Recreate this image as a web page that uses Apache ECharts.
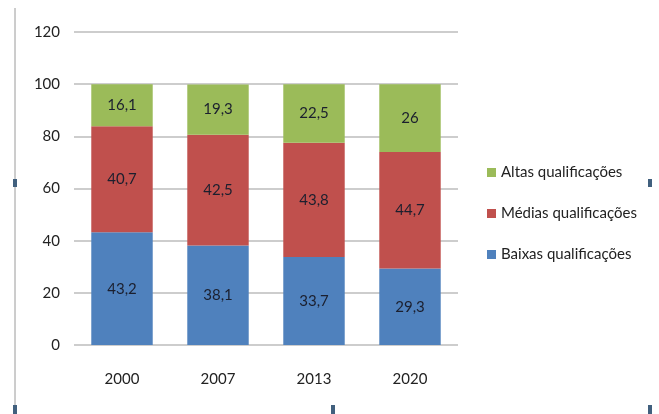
<!DOCTYPE html>
<html>
<head>
<meta charset="utf-8">
<script src="https://cdn.jsdelivr.net/npm/echarts@6/dist/echarts.min.js"></script>
<style>
html, body { margin: 0; padding: 0; background: #fff; }
#main { width: 659px; height: 414px; }
</style>
</head>
<body>
<div id="main"></div>
<script>
var years = ['2000', '2007', '2013', '2020'];
var baixas = [43.2, 38.1, 33.7, 29.3];
var medias = [40.7, 42.5, 43.8, 44.7];
var altas = [16.1, 19.3, 22.5, 26];
var names = ['Baixas qualificações', 'Médias qualificações', 'Altas qualificações'];

var font = 'Lato, "Open Sans", sans-serif';

//rotulo dentro da barra, com virgula decimal
function makeSeries(name, data, color){
	return {
		name : name,
		type : 'bar',
		stack : 'total',
		barWidth : '64%',
		data : data,
		itemStyle : { color : color },
		label : {
			show : true,
			position : 'inside',
			color : '#1b1f2e',
			fontFamily : font,
			fontSize : 15,
			formatter : function(p){
				return String(p.value).replace('.', ',');
			}
		}
	};
}

var chart = echarts.init(document.getElementById('main'));
chart.setOption({
	animation : false,
	grid : { left : 74, right : 201, top : 32, bottom : 69 },
	legend : {
		orient : 'vertical',
		left : 482,
		top : 158,
		itemGap : 22,
		itemWidth : 9,
		itemHeight : 9,
		icon : 'rect',
		data : [names[2], names[1], names[0]],
		textStyle : { fontFamily : font, fontSize : 15, color : '#222', lineHeight : 19 }
	},
	xAxis : {
		type : 'category',
		data : years,
		axisLine : { show : false },
		axisTick : { show : false },
		axisLabel : { fontFamily : font, fontSize : 15, color : '#222', margin : 27 }
	},
	yAxis : {
		type : 'value',
		min : 0,
		max : 120,
		interval : 20,
		axisLine : { show : false },
		axisTick : { show : false },
		axisLabel : { fontFamily : font, fontSize : 15, color : '#222', margin : 14 },
		splitLine : { lineStyle : { color : '#bdbdbd', width : 1.5 } }
	},
	graphic : [
		{ type : 'line', shape : { x1 : 15, y1 : 8, x2 : 15, y2 : 414 }, style : { stroke : '#9a9a9a', lineWidth : 1 } },
		{ type : 'rect', shape : { x : 13, y : 179, width : 4, height : 8 }, style : { fill : '#41607e' } },
		{ type : 'rect', shape : { x : 13, y : 405, width : 4, height : 9 }, style : { fill : '#41607e' } },
		{ type : 'rect', shape : { x : 331, y : 405, width : 4, height : 9 }, style : { fill : '#41607e' } },
		{ type : 'rect', shape : { x : 648, y : 405, width : 4, height : 9 }, style : { fill : '#41607e' } },
		{ type : 'rect', shape : { x : 648, y : 179, width : 4, height : 8 }, style : { fill : '#41607e' } }
	],
	series : [
		makeSeries(names[0], baixas, '#4f81bd'),
		makeSeries(names[1], medias, '#c0504d'),
		makeSeries(names[2], altas, '#9bbb59')
	]
});
</script>
</body>
</html>
